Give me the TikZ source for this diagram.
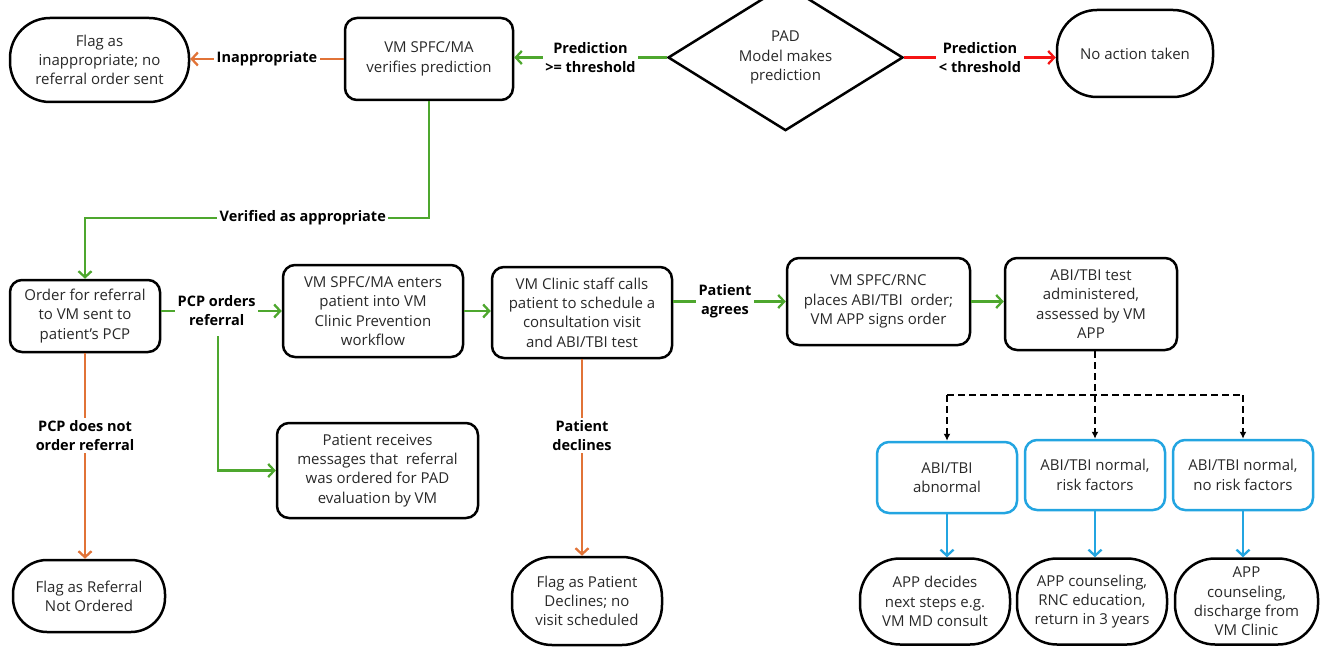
\documentclass[tikz,border=0pt]{standalone}
\usepackage{fontspec}
\setmainfont{Open Sans}
\usetikzlibrary{arrows.meta,shapes.geometric}
\definecolor{cgreen}{RGB}{78,167,46}
\definecolor{corange}{RGB}{225,115,55}
\definecolor{cred}{RGB}{245,20,20}
\definecolor{cblue}{RGB}{35,165,225}
\definecolor{ctext}{RGB}{40,40,40}
\begin{document}
\begin{tikzpicture}[x=1pt,y=-1pt,
  every node/.style={font=\fontsize{15}{19.3}\selectfont, text=ctext, align=center},
  box/.style={draw=black, line width=2.5pt, rounded corners=12pt, inner sep=0pt},
  term/.style={draw=black, line width=2.5pt, rounded corners=40pt, inner sep=0pt},
  bbox/.style={draw=cblue, line width=2.5pt, rounded corners=12pt, inner sep=0pt},
  lbl/.style={font=\fontsize{14.5}{19}\selectfont\bfseries, fill=white, inner sep=2.5pt, text=black},
  conn/.style={line width=2.3pt, -{Straight Barb[length=6pt,width=13pt]}},
  dline/.style={line width=2.3pt, dash pattern=on 7pt off 4pt},
  dconn/.style={dline, -{Latex[length=7pt,width=7pt]}}
]
\useasboundingbox (0,0) rectangle (1320,647);

% top row
\node[term, minimum width=179pt, minimum height=84pt] (flagI) at (99.5,60) {Flag as\\inappropriate; no\\referral order sent};
\node[box, minimum width=168pt, minimum height=82pt] (verify) at (429,59) {VM SPFC/MA\\verifies prediction};
\node[diamond, draw=black, line width=2.5pt, minimum width=235pt, minimum height=95pt, inner sep=0pt] (pad) at (785.5,57.5) {PAD\\Model makes\\prediction};
\node[term, minimum width=156pt, minimum height=87pt] (noact) at (1135,53.5) {No action taken};

% middle row
\node[box, minimum width=150pt, minimum height=72pt] (order) at (85,316) {Order for referral\\to VM sent to\\patient’s PCP};
\node[box, minimum width=180pt, minimum height=92pt] (enters) at (373,311) {VM SPFC/MA enters\\patient into VM\\Clinic Prevention\\workflow};
\node[box, minimum width=201pt, minimum height=95pt] (receive) at (377.5,470.5) {Patient receives\\messages that \ referral\\was ordered for PAD\\evaluation by VM};
\node[box, minimum width=180pt, minimum height=91pt] (clinic) at (582,312.5) {VM Clinic staff calls\\patient to schedule a\\consultation visit\\and ABI/TBI test};
\node[box, minimum width=183pt, minimum height=87pt] (rnc) at (878.5,301.5) {VM SPFC/RNC\\places ABI/TBI \ order;\\VM APP signs order};
\node[box, minimum width=172pt, minimum height=92pt] (abi) at (1091,304) {ABI/TBI test\\administered,\\assessed by VM\\APP};

% outcome terminals
\node[term, rounded corners=34pt, minimum width=152pt, minimum height=72pt] (flagR) at (89,596) {Flag as Referral\\Not Ordered};
\node[term, minimum width=150pt, minimum height=88pt] (flagP) at (587,601) {Flag as Patient\\Declines; no\\visit scheduled};

% blue result boxes
\node[bbox, minimum width=140pt, minimum height=71pt] (b1) at (947,477.5) {ABI/TBI\\abnormal};
\node[bbox, minimum width=140pt, minimum height=70pt] (b2) at (1095,475) {ABI/TBI normal,\\risk factors};
\node[bbox, minimum width=140pt, minimum height=70pt] (b3) at (1243,475) {ABI/TBI normal,\\no risk factors};

% bottom terminals
\node[term, minimum width=150pt, minimum height=86pt] (t1) at (935,601.5) {APP decides\\next steps e.g.\\VM MD consult};
\node[term, minimum width=150pt, minimum height=86pt] (t2) at (1092,601.5) {APP counseling,\\RNC education,\\return in 3 years};
\node[term, minimum width=143pt, minimum height=86pt] (t3) at (1246.5,601.5) {APP\\counseling,\\discharge from\\VM Clinic};

% coordinates
\coordinate (vturn) at (0,218);
\coordinate (br) at (218,336);
\coordinate (dj) at (1095,395);

% top connectors
\draw[conn, cgreen] (pad.west) -- node[lbl]{Prediction\\>= threshold} (pad.west -| verify.east);
\draw[conn, corange] (verify.west) -- node[lbl]{Inappropriate} (verify.west -| flagI.east);
\draw[conn, cred] (pad.east) -- node[lbl]{Prediction\\< threshold} (pad.east -| noact.west);
\draw[conn, cgreen] (verify.south) -- (verify.south |- vturn) -- node[lbl, pos=0.367]{Verified as appropriate} (order.north |- vturn) -- (order.north);

% middle connectors
\draw[conn, cgreen] (order.east |- enters.west) -- node[lbl, pos=0.46]{PCP orders\\referral} (enters.west);
\draw[conn, cgreen] (br) -- (br |- receive.west) -- (receive.west);
\draw[conn, cgreen] (enters.east) -- (enters.east -| clinic.west);
\draw[conn, cgreen] (clinic.east |- rnc.west) -- node[lbl, pos=0.46]{Patient\\agrees} (rnc.west);
\draw[conn, cgreen] (rnc.east) -- (rnc.east -| abi.west);

% declines
\draw[conn, corange] (order.south) -- node[lbl, pos=0.4]{PCP does not\\order referral} (order.south |- flagR.north);
\draw[conn, corange] (clinic.south) -- node[lbl, pos=0.387]{Patient\\declines} (clinic.south |- flagP.north);

% dashed split
\draw[dline] (abi.south -| dj) -- (dj);
\draw[dline] (b1.north |- dj) -- (b3.north |- dj);
\draw[dconn] (b1.north |- dj) -- (b1.north);
\draw[dconn] (dj) -- (b2.north);
\draw[dconn] (b3.north |- dj) -- (b3.north);

% blue arrows
\draw[conn, cblue] (b1.south) -- (b1.south |- t1.north);
\draw[conn, cblue] (b2.south) -- (b2.south |- t2.north);
\draw[conn, cblue] (b3.south) -- (b3.south |- t3.north);
\end{tikzpicture}
\end{document}
